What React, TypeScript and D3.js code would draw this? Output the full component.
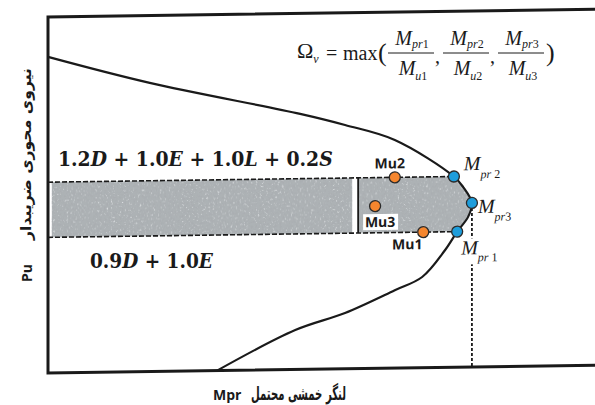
import React, { useLayoutEffect, useRef, useState } from "react";
import * as d3 from "d3";

// Interaction curve (moment M, axial load P), both in percent of the frame
const curveM = [0, 18.6, 46.1, 54.3, 63.4, 74.2, 75.9, 77.5, 76.8, 74.8, 72.6, 68.4, 63.4, 54.3, 45.2, 30.9];
const curveP = [88.8, 81.1, 71.8, 68.5, 64.1, 53.6, 50.6, 46.1, 42.2, 38.1, 33.0, 25.5, 21.9, 15.7, 11.1, 0];

// Probable moment capacities on the curve
const capacitySub = ["pr", "pr", "pr"];
const capacityIdx = [" 2", "3", " 1"];
const capacityM = [74.2, 77.5, 74.8];
const capacityP = [53.6, 46.1, 38.1];

// Factored demand points
const demandNames = ["Mu2", "Mu3", "Mu1"];
const demandM = [63.4, 59.8, 68.6];
const demandP = [53.6, 45.6, 38.1];

// Axial load band between the two load combinations
const bandTopP = 53.6;
const bandBottomP = 38.1;
const bandSplitM = [55.6, 56.3, 56.7];

const comboUpper = "1.2D + 1.0E + 1.0L + 0.2S";
const comboLower = "0.9D + 1.0E";
const yTitle = "نیروی محوری ضریبدار";
const yTitleSymbol = "Pu";
const xTitle = "لنگر خمشی محتمل";
const xTitleSymbol = "Mpr";

const W = 595;
const H = 405;
const X0 = 48;
const X1 = 595;
const YB = 373;
const YT = 17;

const x = d3.scaleLinear().domain([0, 100]).range([X0, X1]);
const y = d3.scaleLinear().domain([0, 100]).range([YB, YT]);

const curvePts: [number, number][] = curveM.map((m, i) => [x(m), y(curveP[i])]);
const line = d3.line().curve(d3.curveCatmullRom.alpha(0.5));
const curvePath = line(curvePts) as string;
const insidePath = `${curvePath}L${x(0)},${y(0)}Z`;

const capOffsets = [
  { dx: 10, dy: -6, sdy: 8 },
  { dx: 6, dy: 10, sdy: 8 },
  { dx: 4, dy: 23, sdy: 7 },
];
const demandOffsets = [
  { dx: -5, dy: -9 },
  { dx: 5, dy: 21 },
  { dx: -16, dy: 17 },
];

const ORANGE = "#f5862e";
const BLUE = "#1e9ddb";
const INK = "#1a1a1a";
const BAND = "#adb2b5";
const serif = "'Liberation Serif', 'Times New Roman', serif";
const sans = "'Open Sans', 'DejaVu Sans', sans-serif";

// Squeezes a text horizontally so that it spans the given width
function FitText({
  tx,
  ty,
  width,
  rotate = 0,
  anchor = "start",
  children,
  ...rest
}: {
  tx: number;
  ty: number;
  width: number;
  rotate?: number;
  anchor?: string;
  children: React.ReactNode;
  [k: string]: any;
}) {
  const ref = useRef<SVGTextElement>(null);
  const [s, setS] = useState(1);
  useLayoutEffect(() => {
    if (ref.current) {
      const w = ref.current.getComputedTextLength();
      if (w > 0) setS(width / w);
    }
  }, [width]);
  return (
    <g transform={`translate(${tx},${ty}) rotate(${rotate}) scale(${s},1)`}>
      <text ref={ref} x={0} y={0} textAnchor={anchor as any} {...rest}>
        {children}
      </text>
    </g>
  );
}

function Combo({ text, x0, yb, width }: { text: string; x0: number; yb: number; width: number }) {
  const parts = text.split(/([A-Z])/).filter((s) => s.length > 0);
  return (
    <FitText
      tx={x0}
      ty={yb}
      width={width}
      fontFamily="'DejaVu Serif', serif"
      fontWeight={700}
      fontSize={20.5}
      fill={INK}
    >
      {parts.map((p, i) => (
        <tspan key={i} fontStyle={/^[A-Z]$/.test(p) ? "italic" : "normal"}>
          {p}
        </tspan>
      ))}
    </FitText>
  );
}

function MSym({
  cx,
  yb,
  sub,
  idx,
  size,
  anchor = "start",
  sdy,
}: {
  cx: number;
  yb: number;
  sub: string;
  idx: string;
  size: number;
  anchor?: string;
  sdy: number;
}) {
  const s = Math.round(size * 0.62);
  return (
    <text x={cx} y={yb} fontFamily={serif} fontSize={size} fill={INK} textAnchor={anchor as any}>
      <tspan fontStyle="italic">M</tspan>
      <tspan fontStyle="italic" fontSize={s} dy={sdy}>
        {sub}
      </tspan>
      <tspan fontSize={s}>{idx}</tspan>
    </text>
  );
}

function Fraction({ cx, k }: { cx: number; k: string }) {
  return (
    <g>
      <MSym cx={cx + 1} yb={45} sub="pr" idx={k} size={20} anchor="middle" sdy={3} />
      <line x1={cx - 23} x2={cx + 23} y1={53} y2={53} stroke={INK} strokeWidth={1} />
      <MSym cx={cx + 2} yb={75} sub="u" idx={k} size={20} anchor="middle" sdy={5} />
    </g>
  );
}

export default function App() {
  const yTop = y(bandTopP);
  const yBot = y(bandBottomP);
  return (
    <svg
      width={W}
      height={H}
      viewBox={`0 0 ${W} ${H}`}
      style={{ position: "absolute", left: 0, top: 0, background: "#fff" }}
    >
      <defs>
        <clipPath id="inside">
          <path d={insidePath} />
        </clipPath>
        <filter id="grain" x="0" y="0" width="100%" height="100%">
          <feTurbulence type="fractalNoise" baseFrequency="0.45" numOctaves="3" seed="5" result="noise" />
          <feColorMatrix
            in="noise"
            type="matrix"
            values="0 0 0 0 0.4  0 0 0 0 0.42  0 0 0 0 0.44  3 0 0 0 -1.35"
            result="dark"
          />
          <feColorMatrix
            in="noise"
            type="matrix"
            values="0 0 0 0 0.82  0 0 0 0 0.84  0 0 0 0 0.86  0 -2.4 0 0 0.95"
            result="light"
          />
          <feComposite in="dark" in2="SourceGraphic" operator="in" result="darkIn" />
          <feComposite in="light" in2="SourceGraphic" operator="in" result="lightIn" />
          <feMerge>
            <feMergeNode in="SourceGraphic" />
            <feMergeNode in="lightIn" />
            <feMergeNode in="darkIn" />
          </feMerge>
        </filter>
      </defs>
      <rect width={W} height={H} fill="#fff" />

      <g transform={`translate(${X0},0) skewY(-0.8) translate(${-X0},0)`}>
        {/* shaded band of axial loads */}
        <g clipPath="url(#inside)" filter="url(#grain)">
          <rect
            x={x(0.7)}
            y={yTop}
            width={x(bandSplitM[0]) - x(0.7)}
            height={yBot - yTop}
            fill={BAND}
          />
          <rect
            x={x(bandSplitM[2])}
            y={yTop}
            width={x(100) - x(bandSplitM[2])}
            height={yBot - yTop}
            fill={BAND}
          />
        </g>
        <line
          x1={x(bandSplitM[2])}
          x2={x(bandSplitM[2])}
          y1={yTop}
          y2={yBot}
          stroke={INK}
          strokeWidth={1.8}
        />
        <line
          x1={x(0)}
          x2={x(capacityM[0])}
          y1={yTop}
          y2={yTop}
          stroke={INK}
          strokeWidth={1.6}
          strokeDasharray="5 2"
        />
        <line
          x1={x(0)}
          x2={x(capacityM[2])}
          y1={yBot}
          y2={yBot}
          stroke={INK}
          strokeWidth={1.6}
          strokeDasharray="5 2"
        />

        {/* interaction curve */}
        <path d={curvePath} fill="none" stroke={INK} strokeWidth={2.2} />

        {/* projection of the governing capacity */}
        <line
          x1={x(capacityM[1])}
          x2={x(capacityM[1])}
          y1={y(capacityP[1])}
          y2={y(0)}
          stroke={INK}
          strokeWidth={1.8}
          strokeDasharray="3 2"
        />
        <rect
          x={x(capacityM[2]) + 3}
          y={y(capacityP[2]) + 7}
          width={40}
          height={26}
          fill="#fff"
        />

        {/* frame */}
        <path
          d={`M${X1},${YT}L${X0},${YT}L${X0},${YB}L${X1},${YB}`}
          fill="none"
          stroke={INK}
          strokeWidth={3}
        />

        {/* demand points */}
        {demandNames.map((n, i) => {
          const cx = x(demandM[i]);
          const cy = y(demandP[i]);
          const o = demandOffsets[i];
          return (
            <g key={n}>
              {i === 1 && (
                <rect x={cx + o.dx - 17} y={cy + o.dy - 13} width={35} height={16} fill="#fff" />
              )}
              <circle cx={cx} cy={cy} r={5.5} fill={ORANGE} stroke="#2b2b2b" strokeWidth={1.3} />
              <text
                x={cx + o.dx}
                y={cy + o.dy}
                textAnchor="middle"
                fontFamily={sans}
                fontWeight={700}
                fontSize={14}
                fill={INK}
              >
                {n}
              </text>
            </g>
          );
        })}

        {/* capacity points */}
        {capacityM.map((m, i) => {
          const cx = x(m);
          const cy = y(capacityP[i]);
          const o = capOffsets[i];
          return (
            <g key={i}>
              <circle cx={cx} cy={cy} r={5.5} fill={BLUE} stroke="#2b2b2b" strokeWidth={1.3} />
              <MSym
                cx={cx + o.dx}
                yb={cy + o.dy}
                sub={capacitySub[i]}
                idx={capacityIdx[i]}
                size={20}
                sdy={o.sdy}
              />
            </g>
          );
        })}
      </g>

      {/* load combinations */}
      <Combo text={comboUpper} x0={58} yb={166} width={275} />
      <Combo text={comboLower} x0={90} yb={268} width={123} />

      {/* overstrength formula */}
      <g>
        <text x={297} y={58} fontFamily={serif} fontSize={22} fill={INK}>
          Ω
          <tspan fontStyle="italic" fontSize={12} dy={5}>
            v
          </tspan>
        </text>
        <text x={326} y={60} fontFamily={serif} fontSize={20} fill={INK}>
          =
        </text>
        <text x={343} y={60} fontFamily={serif} fontSize={20} fill={INK}>
          max
        </text>
        <text x={378} y={61} fontFamily={serif} fontSize={26} fill={INK}>
          (
        </text>
        <Fraction cx={411} k="1" />
        <text x={435} y={63} fontFamily={serif} fontSize={20} fill={INK}>
          ,
        </text>
        <Fraction cx={466} k="2" />
        <text x={490} y={63} fontFamily={serif} fontSize={20} fill={INK}>
          ,
        </text>
        <Fraction cx={521} k="3" />
        <text x={546} y={61} fontFamily={serif} fontSize={26} fill={INK}>
          )
        </text>
      </g>

      {/* axis titles */}
      <FitText
        tx={31}
        ty={154}
        rotate={-90}
        width={172}
        anchor="middle"
        fontFamily="'DejaVu Sans', sans-serif"
        fontWeight={700}
        fontSize={15}
        fill={INK}
      >
        {yTitle}
      </FitText>
      <text
        transform="translate(32,273) rotate(-90)"
        textAnchor="middle"
        fontFamily={sans}
        fontWeight={700}
        fontSize={14}
        fill={INK}
      >
        {yTitleSymbol}
      </text>
      <text x={213} y={400} fontFamily={sans} fontWeight={700} fontSize={14} fill={INK}>
        {xTitleSymbol}
      </text>
      <FitText
        tx={251}
        ty={400}
        width={95}
        fontFamily="'DejaVu Sans', sans-serif"
        fontWeight={700}
        fontSize={19}
        fill={INK}
      >
        {xTitle}
      </FitText>
    </svg>
  );
}
